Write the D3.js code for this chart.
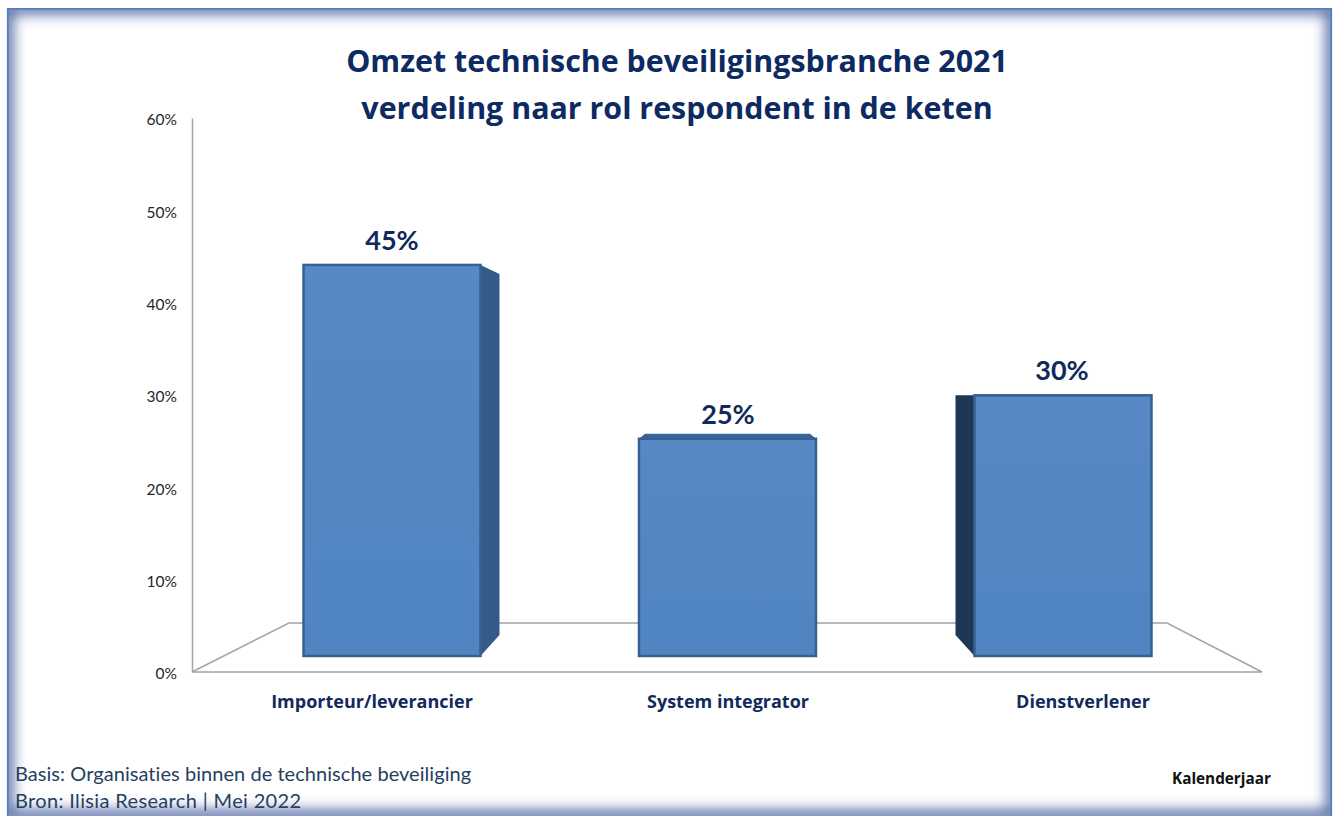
<!DOCTYPE html>
<html><head><meta charset="utf-8">
<style>html,body{margin:0;padding:0;background:#fff}svg{display:block}text{font-variant-ligatures:none}</style>
<script src="https://cdn.jsdelivr.net/npm/d3@7/dist/d3.min.js"></script>
</head><body><script>
const categories = ["Importeur/leverancier", "System integrator", "Dienstverlener"];
const shares = [45, 25, 30];
const tickValues = [0, 10, 20, 30, 40, 50, 60];
const titleLines = ["Omzet technische beveiligingsbranche 2021", "verdeling naar rol respondent in de keten"];
const noteLines = ["Basis: Organisaties binnen de technische beveiliging", "Bron: Ilisia Research | Mei 2022"];
const cornerNote = "Kalenderjaar";

const W = 1339, H = 816;
const svg = d3.select("body").append("svg").attr("width", W).attr("height", H);
const defs = svg.append("defs");
const f = defs.append("filter").attr("id", "glow").attr("x", "-5%").attr("y", "-5%").attr("width", "110%").attr("height", "110%");
f.append("feGaussianBlur").attr("stdDeviation", 6.5);
defs.append("clipPath").attr("id", "frameClip").append("rect").attr("x", 7).attr("y", 8).attr("width", 1325).attr("height", 808);
const g1 = defs.append("linearGradient").attr("id", "barFill").attr("x1", 0).attr("x2", 0).attr("y1", 0).attr("y2", 1);
g1.append("stop").attr("offset", "0%").attr("stop-color", "#5888c5");
g1.append("stop").attr("offset", "100%").attr("stop-color", "#5084c2");

// frame
svg.append("rect").attr("width", W).attr("height", H).attr("fill", "#fff");
svg.append("g").attr("clip-path", "url(#frameClip)")
  .append("rect").attr("x", 7).attr("y", 8).attr("width", 1325).attr("height", 808)
  .attr("fill", "none").attr("stroke", "#5a6ea8").attr("stroke-width", 13).attr("filter", "url(#glow)");
svg.append("path").attr("d", "M7.8,816V8.8H1331.2V816")
  .attr("fill", "none").attr("stroke", "#4f81bd").attr("stroke-width", 1.8);

const font = "Lato, Carlito, sans-serif";
const headFont = "'Open Sans', sans-serif";
const ink = "#12295c";

// scales
const axisY = d3.scaleLinear().domain([0, 60]).range([672, 118]);
const frontY = d3.scaleLinear().domain([0, 60]).range([656, 134.6]);
const x = d3.scalePoint().domain(categories).range([392, 1063]);
const barW = 177;

// walls and floor
const axisColor = "#a3a3a3";
const axis = d3.axisLeft(axisY).tickValues(tickValues).tickSize(0).tickFormat(d => d + "%");
const ag = svg.append("g").attr("transform", "translate(192,0)").call(axis);
ag.select(".domain").attr("stroke", axisColor).attr("stroke-width", 1.5);
ag.selectAll("text").attr("x", -15).attr("dy", "0.45em").attr("font-family", font).attr("font-size", 15.5).attr("fill", "#262626");
const floor = d3.line();
svg.append("path").attr("d", floor([[192, 672], [1262, 672], [1167, 623], [289, 623], [192, 672]]))
  .attr("fill", "none").attr("stroke", axisColor).attr("stroke-width", 1.5);

// bars
const depthX = 19, depthDown = 21;
const sideStyle = [
  { side: "right", fill: "#345a8a" },
  { side: "top", fill: "#39649a" },
  { side: "left", fill: "#1f3656" }
];
const bars = svg.append("g").selectAll("g").data(categories).join("g");
bars.each(function (c, i) {
  const g = d3.select(this);
  const l = x(c) - barW / 2, r = l + barW, t = frontY(shares[i]), b = frontY(0);
  const kind = sideStyle[i];
  if (kind.side === "right") {
    g.append("path").attr("d", d3.line()([[r, t], [r + depthX, t + 9], [r + depthX, b - depthDown], [r, b]])).attr("fill", kind.fill);
  } else if (kind.side === "left") {
    g.append("path").attr("d", d3.line()([[l, t], [l - depthX, t], [l - depthX, b - depthDown], [l, b]])).attr("fill", kind.fill);
  } else {
    g.append("path").attr("d", d3.line()([[l, t], [l + 6, t - 5], [r - 6, t - 5], [r, t]])).attr("fill", kind.fill);
  }
  g.append("rect").attr("x", l).attr("y", t).attr("width", barW).attr("height", b - t)
    .attr("fill", "url(#barFill)").attr("stroke", "#36618f").attr("stroke-width", 2.5);
  g.append("text").attr("x", [392, 728, 1062][i]).attr("y", t - 15).attr("text-anchor", "middle")
    .attr("font-family", font).attr("font-weight", 700).attr("font-size", 27).attr("fill", ink).text(shares[i] + "%");
  g.append("text").attr("x", [372, 728, 1083][i]).attr("y", 708).attr("text-anchor", "middle")
    .attr("font-family", headFont).attr("font-weight", 700).attr("font-size", 18).attr("fill", ink).text(c);
});

// title
svg.append("g").selectAll("text").data(titleLines).join("text")
  .attr("x", 677).attr("y", (d, i) => 72 + i * 47).attr("text-anchor", "middle")
  .attr("font-family", headFont).attr("font-weight", 700).attr("font-size", 30.4).attr("fill", "#0d2a62").text(d => d);

// notes
svg.append("g").selectAll("text").data(noteLines).join("text")
  .attr("x", 15).attr("y", (d, i) => 781 + i * 27).attr("font-family", font).attr("font-size", 20)
  .attr("letter-spacing", (d, i) => i ? 0.35 : 0.05).attr("fill", "#26405f").text(d => d);
svg.append("text").attr("x", 1172).attr("y", 784).attr("font-family", headFont).attr("font-weight", 700)
  .attr("font-size", 15.3).attr("fill", "#111").text(cornerNote);
</script></body></html>
